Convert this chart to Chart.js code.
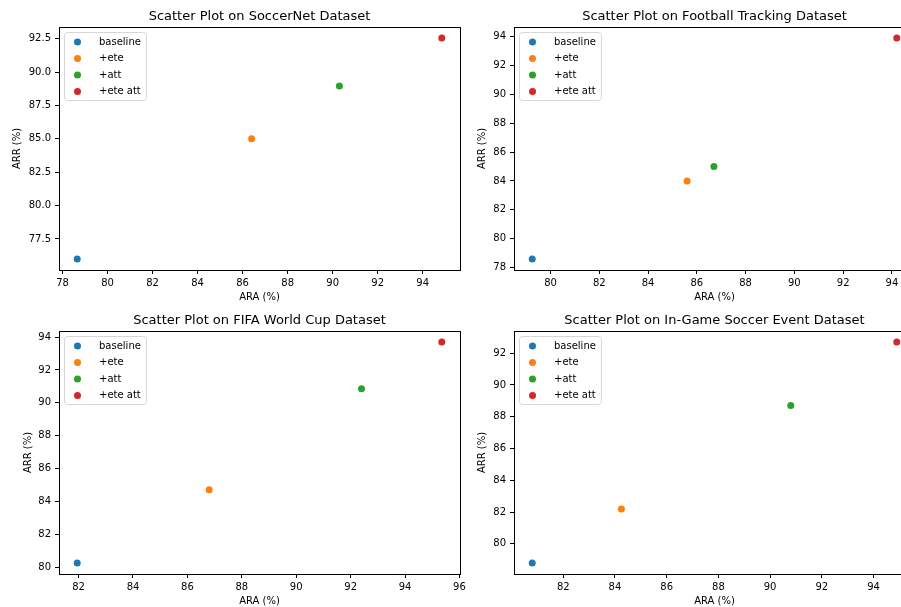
<!DOCTYPE html>
<html>
<head>
<meta charset="utf-8">
<script src="https://cdn.jsdelivr.net/npm/chart.js@4.4.1/dist/chart.umd.min.js"></script>
<style>
  html, body { margin: 0; padding: 0; background: #fff; }
  #page { position: relative; width: 901px; height: 607px; overflow: hidden; background: #fff; }
  #page canvas { position: absolute; }
</style>
</head>
<body>
<div id="page">
  <canvas id="c1" width="470" height="305" style="left:0px;top:0px"></canvas>
  <canvas id="c2" width="470" height="305" style="left:455px;top:0px"></canvas>
  <canvas id="c3" width="470" height="305" style="left:0px;top:304px"></canvas>
  <canvas id="c4" width="470" height="305" style="left:455px;top:304px"></canvas>
</div>
<script>
// Method names (legend labels)
const methods = ['baseline', '+ete', '+att', '+ete att'];

// SoccerNet
const soccerNetARA = [78.65, 86.4, 90.3, 94.85];
const soccerNetARR = [76.0, 85.0, 88.95, 92.55];
const soccerNetXTicks = [78, 80, 82, 84, 86, 88, 90, 92, 94];
const soccerNetYTicks = [77.5, 80.0, 82.5, 85.0, 87.5, 90.0, 92.5];

// Football Tracking
const trackingARA = [79.25, 85.6, 86.7, 94.2];
const trackingARR = [78.6, 84.0, 85.0, 93.9];
const trackingXTicks = [80, 82, 84, 86, 88, 90, 92, 94];
const trackingYTicks = [78, 80, 82, 84, 86, 88, 90, 92, 94];

// FIFA World Cup
const fifaARA = [81.95, 86.8, 92.4, 95.35];
const fifaARR = [80.25, 84.7, 90.85, 93.7];
const fifaXTicks = [82, 84, 86, 88, 90, 92, 94, 96];
const fifaYTicks = [80, 82, 84, 86, 88, 90, 92, 94];

// In-Game Soccer Event
const eventARA = [80.8, 84.25, 90.8, 94.9];
const eventARR = [78.8, 82.2, 88.7, 92.7];
const eventXTicks = [82, 84, 86, 88, 90, 92, 94];
const eventYTicks = [80, 82, 84, 86, 88, 90, 92];

const colors = ['#1f77b4', '#ff7f0e', '#2ca02c', '#d62728'];

Chart.defaults.font.family = '"DejaVu Sans", sans-serif';
Chart.defaults.font.size = 10;
Chart.defaults.color = '#000';

// matplotlib-like autoscale: data range plus 5% on each side
function paddedRange(values) {
  const lo = Math.min(...values);
  const hi = Math.max(...values);
  const m = (hi - lo) * 0.05;
  return [lo - m, hi + m];
}

// Box around the plot area (all four spines)
const framePlugin = {
  id: 'frame',
  afterDraw(chart) {
    const a = chart.chartArea;
    const ctx = chart.ctx;
    ctx.save();
    ctx.strokeStyle = '#000';
    ctx.lineWidth = 1;
    ctx.strokeRect(Math.round(a.left) + 0.5, Math.round(a.top) + 0.5,
      Math.round(a.right - a.left), Math.round(a.bottom - a.top));
    ctx.restore();
  }
};

// Legend drawn inside the axes, upper left, like matplotlib
const insideLegend = {
  id: 'insideLegend',
  afterDatasetsDraw(chart) {
    const a = chart.chartArea;
    const ctx = chart.ctx;
    ctx.save();
    ctx.font = '10px "DejaVu Sans", sans-serif';
    const sets = chart.data.datasets;
    let maxW = 0;
    sets.forEach(ds => { maxW = Math.max(maxW, ctx.measureText(ds.label).width); });
    const x0 = a.left + 5.5, y0 = a.top + 5.5;
    const w = 40 + maxW, h = 68;
    ctx.beginPath();
    ctx.roundRect(x0, y0, w, h, 3);
    ctx.fillStyle = 'rgba(255,255,255,0.8)';
    ctx.fill();
    ctx.strokeStyle = '#d6d6d6';
    ctx.lineWidth = 1;
    ctx.stroke();
    ctx.textBaseline = 'middle';
    ctx.textAlign = 'left';
    sets.forEach((ds, i) => {
      const cy = a.top + 15 + i * 16.5;
      ctx.beginPath();
      ctx.arc(a.left + 18.5, cy, 3.5, 0, Math.PI * 2);
      ctx.fillStyle = ds.backgroundColor;
      ctx.fill();
      ctx.fillStyle = '#000';
      ctx.fillText(ds.label, a.left + 40, cy);
    });
    ctx.restore();
  }
};

function makePanel(id, title, ara, arr, xTicks, yTicks, yDecimals, yTitlePad) {
  const xr = paddedRange(ara);
  const yr = paddedRange(arr);
  const datasets = methods.map((m, i) => ({
    label: m,
    data: [{ x: ara[i], y: arr[i] }],
    backgroundColor: colors[i],
    borderWidth: 0,
    pointRadius: 3.5,
    pointHoverRadius: 3.5
  }));
  new Chart(document.getElementById(id), {
    type: 'scatter',
    data: { datasets },
    plugins: [framePlugin, insideLegend],
    options: {
      responsive: false,
      animation: false,
      layout: { padding: { left: 0, right: 10, top: 0, bottom: 0 } },
      plugins: {
        legend: { display: false },
        tooltip: { enabled: false },
        title: {
          display: true,
          text: title,
          fullSize: false,
          color: '#000',
          font: { size: 13, weight: 'normal' },
          padding: { top: 8.7, bottom: 2.7 }
        }
      },
      scales: {
        x: {
          type: 'linear',
          min: xr[0],
          max: xr[1],
          afterBuildTicks: s => { s.ticks = xTicks.map(v => ({ value: v })); },
          afterFit: s => { s.height = 35; },
          ticks: { padding: 3, callback: v => String(v) },
          grid: { drawOnChartArea: false, drawTicks: true, tickLength: 4, color: '#000' },
          border: { display: false },
          title: { display: true, text: 'ARA (%)', color: '#000', font: { size: 10 }, padding: { top: 0, bottom: 1.5 } }
        },
        y: {
          type: 'linear',
          min: yr[0],
          max: yr[1],
          afterBuildTicks: s => { s.ticks = yTicks.map(v => ({ value: v })); },
          afterFit: s => { s.width = 59; },
          ticks: { padding: 4, callback: v => v.toFixed(yDecimals) },
          grid: { drawOnChartArea: false, drawTicks: true, tickLength: 4, color: '#000' },
          border: { display: false },
          title: { display: true, text: 'ARR (%)', color: '#000', font: { size: 10 }, padding: { top: yTitlePad, bottom: 0 } }
        }
      }
    }
  });
}

makePanel('c1', 'Scatter Plot on SoccerNet Dataset', soccerNetARA, soccerNetARR, soccerNetXTicks, soccerNetYTicks, 1, 11.3);
makePanel('c2', 'Scatter Plot on Football Tracking Dataset', trackingARA, trackingARR, trackingXTicks, trackingYTicks, 0, 21.3);
makePanel('c3', 'Scatter Plot on FIFA World Cup Dataset', fifaARA, fifaARR, fifaXTicks, fifaYTicks, 0, 22);
makePanel('c4', 'Scatter Plot on In-Game Soccer Event Dataset', eventARA, eventARR, eventXTicks, eventYTicks, 0, 21.3);
</script>
</body>
</html>
